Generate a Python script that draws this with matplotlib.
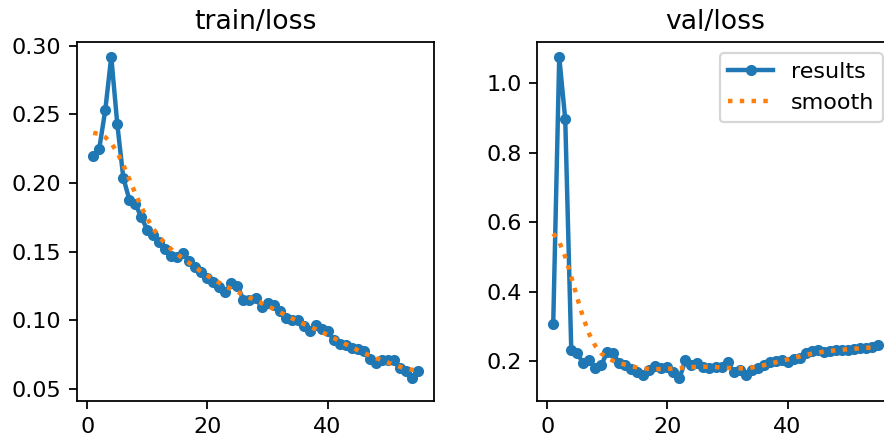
import numpy as np
import matplotlib
matplotlib.use("Agg")
import matplotlib.pyplot as plt

epochs = list(range(1, 56))

train_loss = [0.220, 0.225, 0.253, 0.292, 0.243, 0.204, 0.188, 0.185, 0.175, 0.166,
              0.162, 0.157, 0.152, 0.147, 0.146, 0.149, 0.143, 0.139, 0.135, 0.131,
              0.128, 0.124, 0.121, 0.127, 0.125, 0.115, 0.115, 0.116, 0.110, 0.113,
              0.111, 0.107, 0.102, 0.100, 0.100, 0.096, 0.092, 0.097, 0.094, 0.092,
              0.086, 0.083, 0.082, 0.080, 0.079, 0.078, 0.072, 0.069, 0.071, 0.071,
              0.071, 0.065, 0.063, 0.058, 0.063]

val_loss = [0.308, 1.075, 0.895, 0.232, 0.222, 0.193, 0.203, 0.179, 0.188, 0.227,
            0.222, 0.193, 0.188, 0.178, 0.169, 0.160, 0.174, 0.186, 0.179, 0.184,
            0.169, 0.150, 0.203, 0.188, 0.193, 0.184, 0.179, 0.182, 0.184, 0.198,
            0.169, 0.174, 0.160, 0.174, 0.179, 0.190, 0.198, 0.200, 0.203, 0.198,
            0.205, 0.210, 0.222, 0.228, 0.232, 0.227, 0.230, 0.232, 0.232, 0.232,
            0.235, 0.237, 0.237, 0.240, 0.246]

titles = ["train/loss", "val/loss"]
series_labels = ["results", "smooth"]


def gaussian_smooth(y, sigma=3.0, truncate=4.0):
    y = np.asarray(y, dtype=float)
    r = int(truncate * sigma + 0.5)
    k = np.arange(-r, r + 1)
    w = np.exp(-0.5 * (k / sigma) ** 2)
    w /= w.sum()
    yp = np.pad(y, r, mode="symmetric")
    return np.convolve(yp, w, mode="valid")


fig = plt.figure(figsize=(884 / 160, 435 / 160), dpi=160)
ax1 = fig.add_axes([77 / 884, 1 - 401 / 435, 357 / 884, 359 / 435])
ax2 = fig.add_axes([537 / 884, 1 - 401 / 435, 357 / 884, 359 / 435])

for ax, data, title in zip([ax1, ax2], [train_loss, val_loss], titles):
    ax.plot(epochs, data, marker=".", linewidth=2, markersize=8,
            color="C0", label=series_labels[0])
    ax.plot(epochs, gaussian_smooth(data), ":", linewidth=2,
            color="C1", label=series_labels[1])
    ax.set_title(title)

ax1.set_ylim(0.0413, 0.3027)
ax2.set_ylim(0.085, 1.118)
ax1.set_xticks([0, 20, 40])
ax2.set_xticks([0, 20, 40])
ax2.legend(loc="upper right")

fig.savefig("out.png", dpi=160)
